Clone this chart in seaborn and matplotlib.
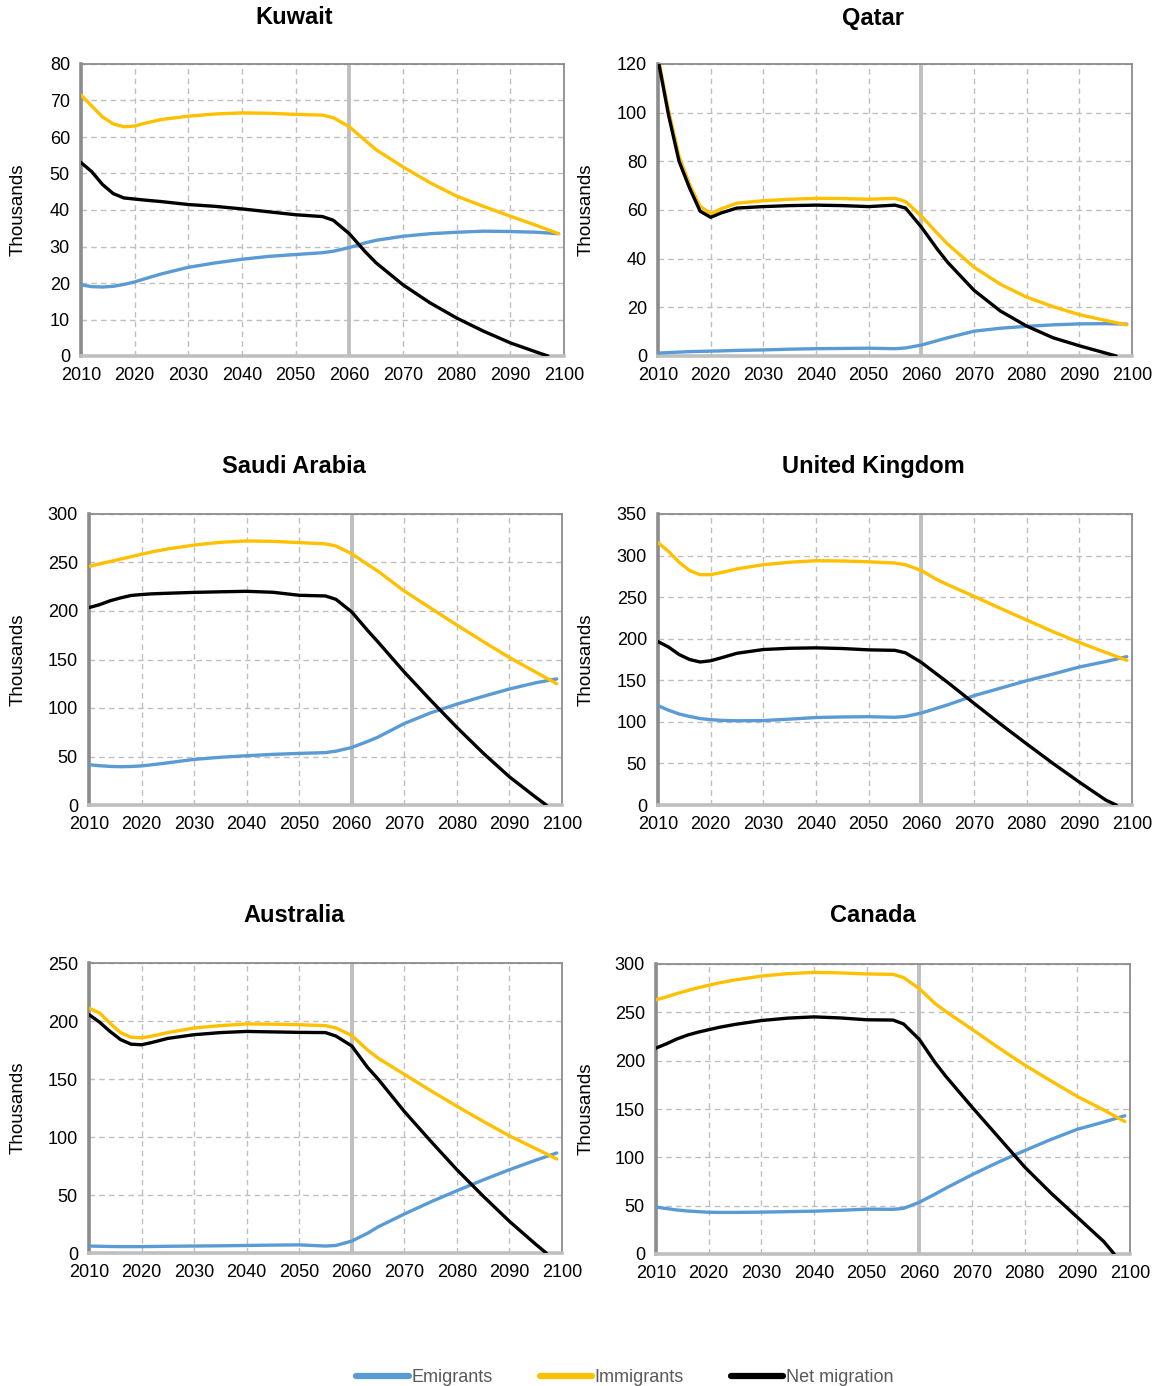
import numpy as np
import pandas as pd
import matplotlib
matplotlib.use("Agg")
import matplotlib.pyplot as plt
from matplotlib.lines import Line2D
import seaborn as sns

# ---------------- data ----------------
YEARS = [2010, 2012, 2014, 2016, 2018, 2020, 2022, 2025, 2030, 2035, 2040, 2045,
         2050, 2055, 2057, 2060, 2063, 2065, 2070, 2075, 2080, 2085, 2090, 2095, 2099]
NET_YEARS = YEARS[:-1] + [2097]

SERIES = ["Emigrants", "Immigrants", "Net migration"]
COLORS = ["#5B9BD5", "#FFC000", "#000000"]

COUNTRIES = ["Kuwait", "Qatar", "Saudi Arabia", "United Kingdom", "Australia", "Canada"]

kuwait_emi = [19.5, 19.0, 18.9, 19.1, 19.6, 20.3, 21.2, 22.5, 24.3, 25.5, 26.5, 27.3,
              27.8, 28.3, 28.7, 29.7, 31.0, 31.7, 32.8, 33.5, 33.9, 34.2, 34.1, 33.9, 33.5]
kuwait_imm = [71.5, 68.5, 65.5, 63.6, 62.8, 63.0, 63.8, 64.8, 65.7, 66.3, 66.6, 66.5,
              66.2, 66.0, 65.3, 62.8, 59.0, 56.5, 51.8, 47.5, 43.8, 41.0, 38.3, 35.7, 33.5]
kuwait_net = [53.0, 50.5, 47.0, 44.5, 43.3, 43.0, 42.7, 42.3, 41.5, 41.0, 40.3, 39.5,
              38.7, 38.2, 37.2, 33.5, 28.5, 25.5, 19.5, 14.6, 10.4, 6.8, 3.6, 1.0, 0.0]

qatar_emi = [1.2, 1.4, 1.6, 1.8, 1.9, 2.0, 2.1, 2.3, 2.5, 2.8, 3.0, 3.1,
             3.2, 3.0, 3.3, 4.5, 6.3, 7.5, 10.2, 11.4, 12.2, 12.8, 13.2, 13.3, 13.1]
qatar_imm = [123, 101, 82, 70.5, 61.5, 58.5, 60.5, 62.8, 63.8, 64.4, 64.8, 64.7,
             64.4, 64.8, 63.5, 57.5, 50.5, 46.0, 36.5, 29.5, 24.2, 20.3, 17.0, 14.6, 12.8]
qatar_net = [122, 99, 80, 69, 59.5, 57.0, 58.8, 60.8, 61.4, 61.8, 62.0, 61.8,
             61.4, 62.0, 60.8, 53.0, 44.0, 38.5, 27.0, 18.5, 12.3, 7.5, 4.2, 1.2, 0.0]

saudi_emi = [41.5, 40.5, 39.8, 39.5, 39.7, 40.3, 41.5, 43.5, 47.0, 49.2, 50.8, 52.2,
             53.2, 54.0, 55.5, 59.3, 65.5, 70.0, 84.0, 95.0, 104.0, 112.0, 119.6, 126.0, 130.0]
saudi_imm = [246, 248.5, 251, 253.5, 256, 258.5, 261, 264, 268, 270.8, 272.2, 271.8,
             270.5, 269.2, 267, 259, 248, 241, 220.5, 203, 185.5, 168.5, 152, 137, 125]
saudi_net = [203.5, 206.5, 210.5, 213.5, 216, 217, 217.7, 218.3, 219.2, 219.8, 220.3, 219.3,
             216.2, 215.5, 212, 199, 180, 168, 137, 108, 80, 53.5, 29, 8, 0]

uk_emi = [119.5, 114, 109.5, 106.5, 104, 102.6, 101.8, 101.3, 101.6, 103.3, 105.2, 105.9,
          106.2, 105.5, 106.5, 110.6, 116.5, 120.5, 131.5, 140.5, 149.5, 157.5, 166, 172.5, 178.5]
uk_imm = [315.5, 305, 292, 282, 277, 277, 279.5, 284, 289, 292, 293.8, 293.5,
          292.5, 291, 289, 282, 271, 265, 251, 236.5, 222.5, 208.5, 195.5, 183.5, 174]
uk_net = [196.5, 190, 181, 175, 172, 173.5, 177, 182.5, 187, 188.5, 189, 188.2,
          186.6, 186, 183, 171.5, 157, 147.5, 122.3, 97.5, 73.5, 50, 27.5, 6, 0]

aus_emi = [6.0, 5.8, 5.6, 5.5, 5.5, 5.5, 5.6, 5.8, 6.0, 6.2, 6.5, 6.8,
           7.0, 6.0, 6.5, 10.3, 17.0, 22.5, 33.6, 44.0, 53.7, 63.0, 71.8, 80.0, 86.2]
aus_imm = [211, 207, 198, 190, 186, 185.5, 187, 190, 194, 196, 197.5, 197.3,
           196.8, 196, 194, 187.5, 175, 168, 154, 140, 126.5, 113.5, 101, 90, 81]
aus_net = [205.5, 199, 191, 184, 180, 179.5, 181.5, 185, 188.2, 190, 191, 190.6,
           190.2, 190, 187, 178.5, 160, 150, 122, 96.5, 71.8, 49, 27.3, 7.5, 0]

can_emi = [48.5, 47, 45.5, 44.5, 43.8, 43.2, 43, 43, 43.3, 43.8, 44.3, 45.2,
           46.4, 46.2, 47.2, 53.5, 62, 68, 82, 95, 107, 118.5, 129, 136.5, 143]
can_imm = [263, 266, 269.5, 272.5, 275.5, 278, 280.5, 283.5, 287.5, 290, 291.3, 290.8,
           289.7, 289.3, 286, 274.5, 259, 251, 232.5, 213.5, 195.5, 179, 163, 149, 137]
can_net = [213, 217.5, 222.5, 226.5, 229.5, 232, 234.5, 237.5, 241.5, 244, 245.3, 244.2,
           242.3, 242, 238, 222, 198, 184, 152, 121, 90, 63, 38, 13, 0]

DATA = {
    "Kuwait": (kuwait_emi, kuwait_imm, kuwait_net),
    "Qatar": (qatar_emi, qatar_imm, qatar_net),
    "Saudi Arabia": (saudi_emi, saudi_imm, saudi_net),
    "United Kingdom": (uk_emi, uk_imm, uk_net),
    "Australia": (aus_emi, aus_imm, aus_net),
    "Canada": (can_emi, can_imm, can_net),
}
YMAX = {"Kuwait": 80, "Qatar": 120, "Saudi Arabia": 300,
        "United Kingdom": 350, "Australia": 250, "Canada": 300}
YSTEP = {"Kuwait": 10, "Qatar": 20, "Saudi Arabia": 50,
         "United Kingdom": 50, "Australia": 50, "Canada": 50}
XTICKS = list(range(2010, 2101, 10))
DIVIDER_YEAR = 2060

# ---------------- style ----------------
sns.set_theme(style="white")
plt.rcParams["font.family"] = ["Liberation Sans Narrow", "Liberation Sans", "DejaVu Sans"]

W, H = 1158, 1386
fig = plt.figure(figsize=(W / 100, H / 100), dpi=100)

# axes boxes in pixels: x0, x1, y_top, y_bottom
BOXES = {
    "Kuwait": (81, 564, 64, 356),
    "Qatar": (658, 1132, 64, 356),
    "Saudi Arabia": (89, 562, 514, 805),
    "United Kingdom": (658, 1132, 514, 805),
    "Australia": (89, 562, 963, 1253),
    "Canada": (656, 1130, 964, 1254),
}
TITLE_Y = {"Kuwait": 18, "Qatar": 18, "Saudi Arabia": 467, "United Kingdom": 467,
           "Australia": 915, "Canada": 915}
palette = dict(zip(SERIES, COLORS))

for i, c in enumerate(COUNTRIES):
    x0, x1, yt, yb = BOXES[c]
    ax = fig.add_axes([x0 / W, 1 - yb / H, (x1 - x0) / W, (yb - yt) / H])
    emi, imm, net = DATA[c]
    df = pd.concat([
        pd.DataFrame({"Year": YEARS, "Value": emi, "Series": SERIES[0]}),
        pd.DataFrame({"Year": YEARS, "Value": imm, "Series": SERIES[1]}),
        pd.DataFrame({"Year": NET_YEARS, "Value": net, "Series": SERIES[2]}),
    ], ignore_index=True)

    ax.set_xlim(2010, 2100)
    ax.set_ylim(0, YMAX[c])
    ax.set_xticks(XTICKS)
    ax.set_yticks(np.arange(0, YMAX[c] + 1, YSTEP[c]))
    ax.grid(True, color="#BFBFBF", linestyle=(0, (4, 3)), linewidth=1.0)
    ax.set_axisbelow(True)
    ax.axvline(DIVIDER_YEAR, color="#BFBFBF", linewidth=2.8, zorder=1.5)

    sns.lineplot(data=df, x="Year", y="Value", hue="Series", palette=palette,
                 hue_order=SERIES, ax=ax, legend=False, linewidth=2.4,
                 estimator=None, sort=False, zorder=3)
    for ln in ax.lines:
        ln.set_solid_capstyle("round")
        ln.set_solid_joinstyle("round")

    for s in ["top", "right"]:
        ax.spines[s].set_color("#8C8C8C")
        ax.spines[s].set_linewidth(1.3)
    ax.spines["left"].set_color("#8C8C8C")
    ax.spines["left"].set_linewidth(2.6)
    ax.spines["bottom"].set_color("#BFBFBF")
    ax.spines["bottom"].set_linewidth(2.6)

    ax.tick_params(axis="both", direction="out", length=5, width=1.2, color="#8C8C8C",
                   labelsize=13, labelcolor="#000000", pad=3)
    ax.set_xlabel("")
    ax.set_ylabel("")

    left_col = (i % 2 == 0)
    cx = 294 if left_col else 873
    fig.text(cx / W, 1 - TITLE_Y[c] / H, c, ha="center", va="center",
             fontsize=17, fontweight="bold", color="#000000")
    lx = 18 if left_col else 586
    fig.text(lx / W, 1 - ((yt + yb) / 2) / H, "Thousands", rotation=90,
             ha="center", va="center", fontsize=13.5, color="#000000")

handles = [Line2D([0], [0], color=col, linewidth=4.5, solid_capstyle="round")
           for col in COLORS]
leg = fig.legend(handles, SERIES, loc="center", bbox_to_anchor=(625 / W, 1 - 1378 / H),
                 ncol=3, frameon=False, fontsize=13, handlelength=2.9,
                 handletextpad=0.15, columnspacing=2.6)
for t in leg.get_texts():
    t.set_color("#595959")

fig.savefig("out.png", dpi=100)
